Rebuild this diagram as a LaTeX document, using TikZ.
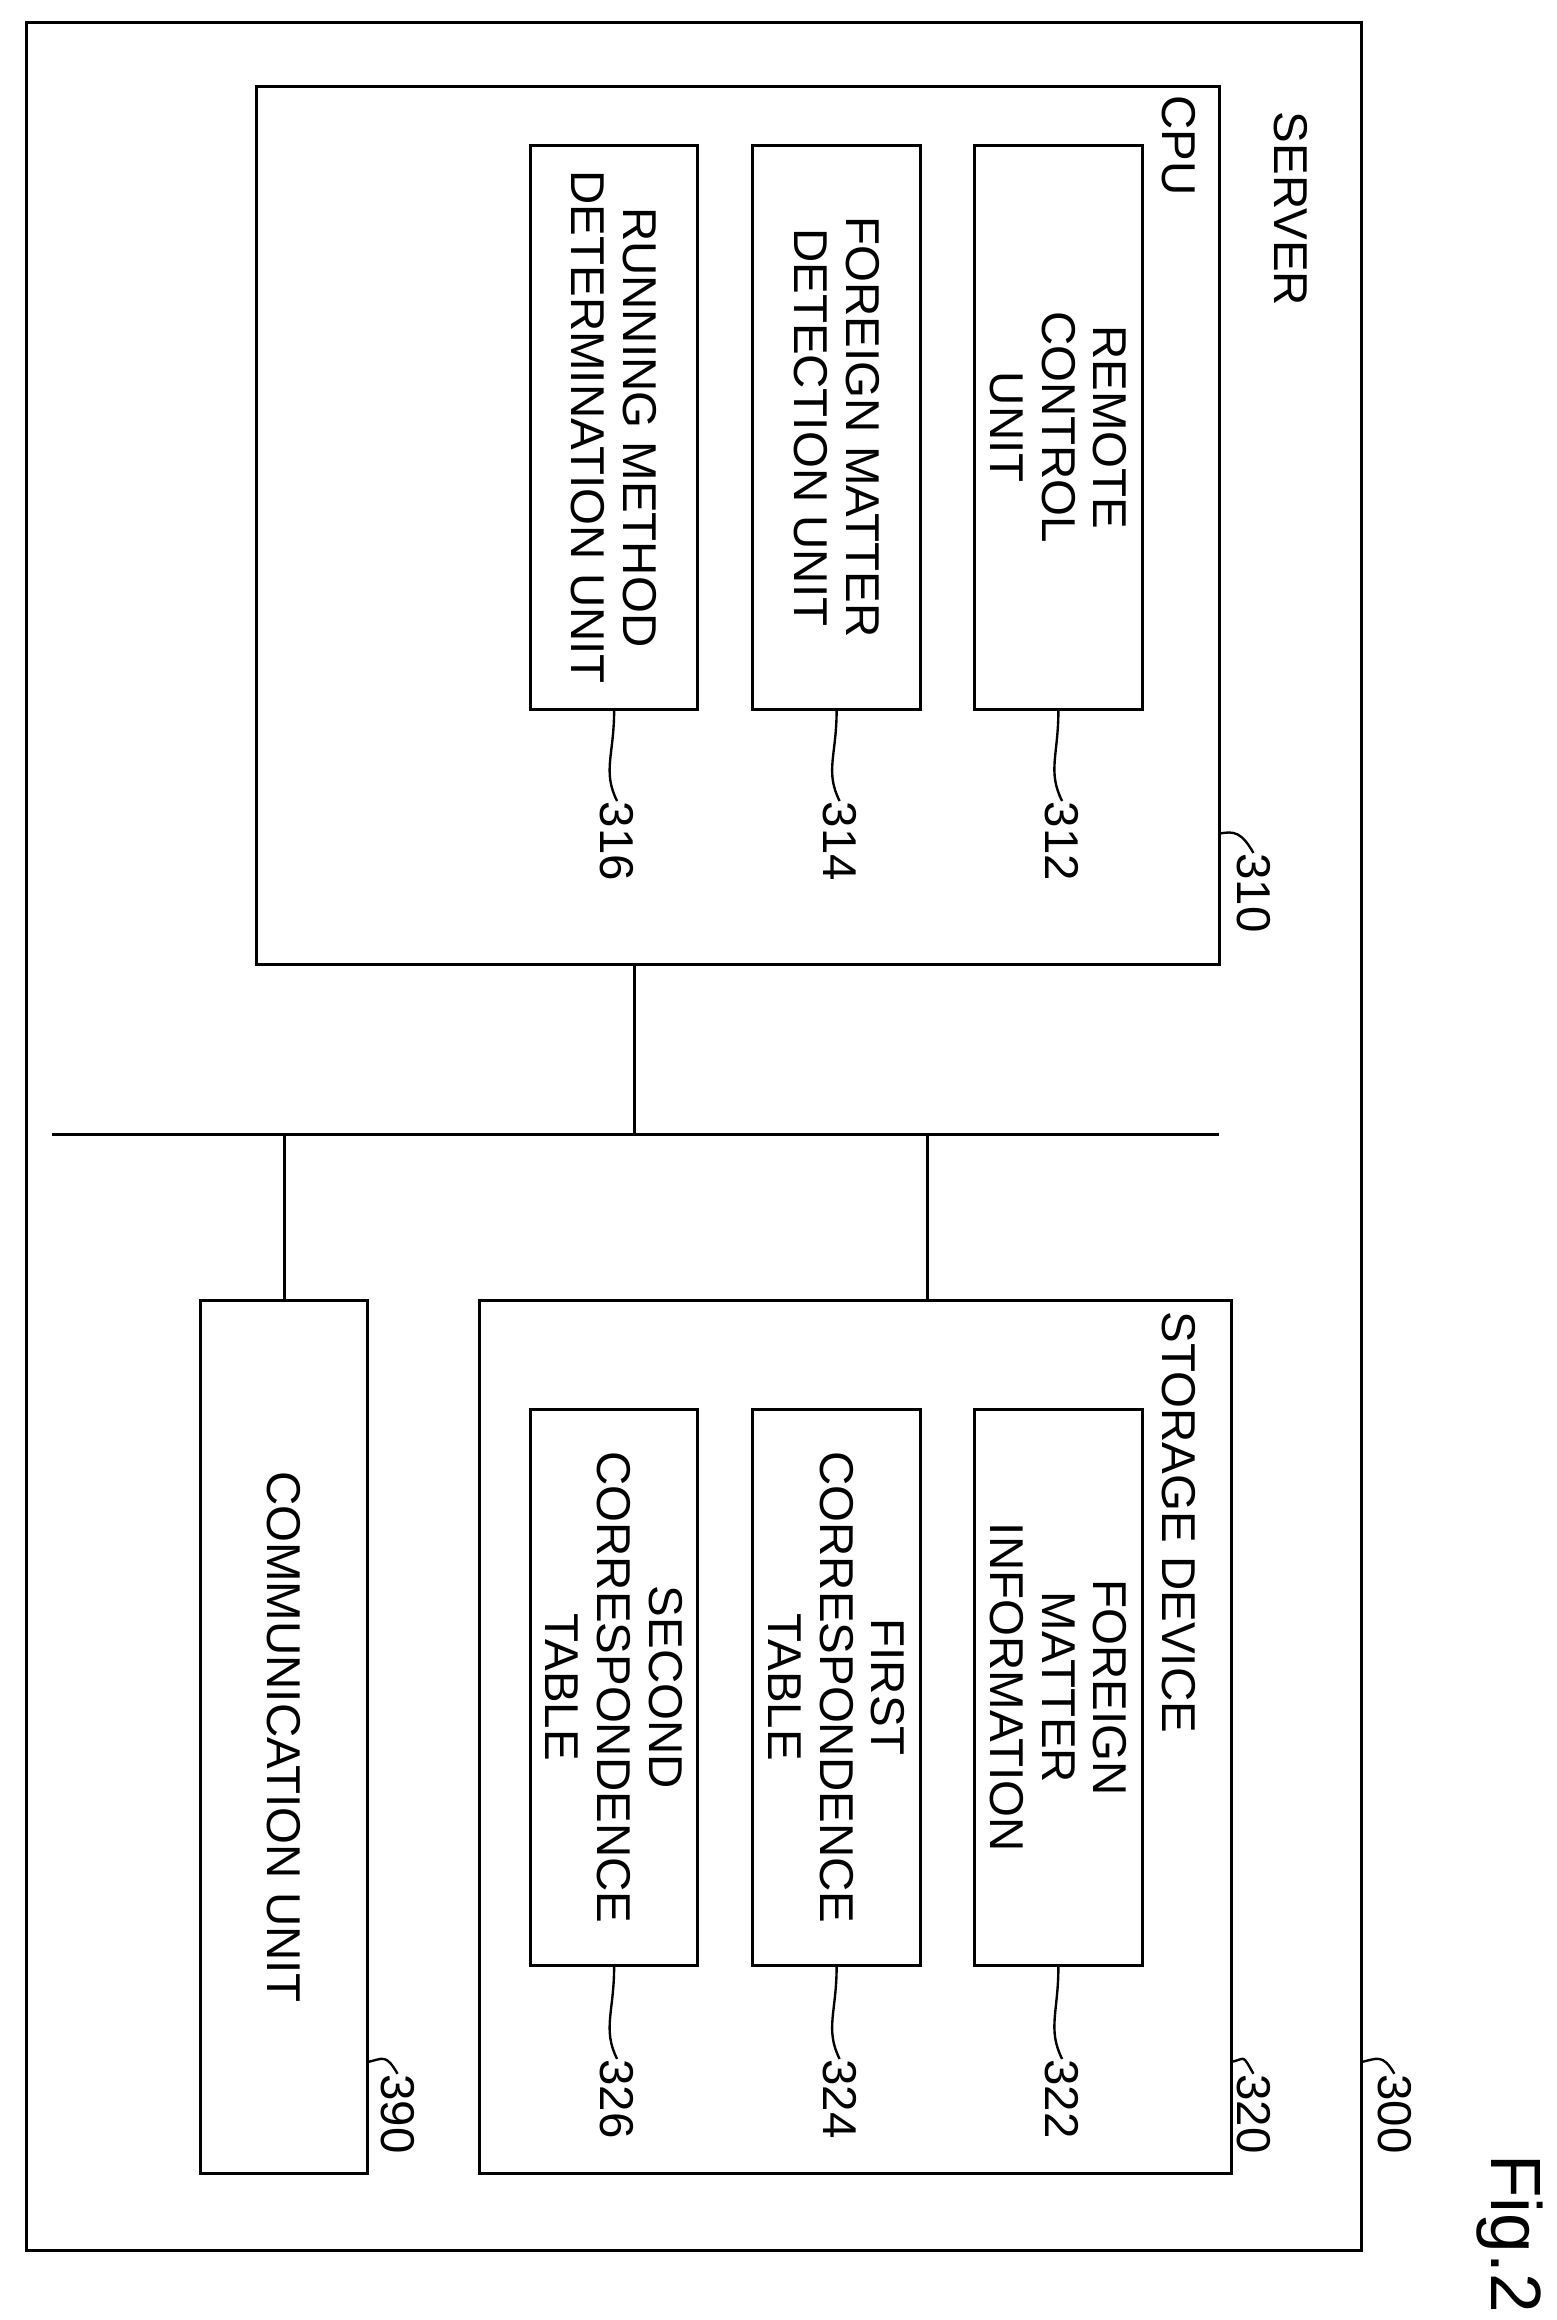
\documentclass[tikz,border=0pt]{standalone}
\usepackage{fontspec}
\setmainfont{Liberation Sans}
\usetikzlibrary{positioning, calc}
\newcommand{\unitfont}{\fontsize{16}{17.5}\selectfont}
\tikzset{
  box/.style={draw, line width=1pt, rotate=-90, inner sep=0pt, align=center, font=\unitfont},
  title/.style={rotate=-90, anchor=west, inner sep=0pt, font=\unitfont},
  ref/.style={rotate=-90, anchor=west, inner sep=0pt, font=\unitfont},
  lead/.style={line width=0.8pt},
  bus/.style={line width=1pt}
}
\begin{document}
\begin{tikzpicture}[x=0.5pt, y=-0.5pt]
\useasboundingbox (0,0) rectangle (1049,1564);

% server and cpu
\node[box, minimum width=751pt, minimum height=450pt] (server) at (468,766) {};
\node[title] (servert) at (870,75) {SERVER};
\node[box, minimum width=296pt, minimum height=324.5pt] (cpu) at (497.5,354) {};
\node[title] (cput) at (795,64) {CPU};

\node[box, minimum width=190pt, minimum height=56.5pt] (rcu) at (713.5,288) {REMOTE\\CONTROL\\UNIT};
\node[box, minimum width=190pt, minimum height=56.5pt] (fmdu) at (564,288) {FOREIGN MATTER\\DETECTION UNIT};
\node[box, minimum width=190pt, minimum height=56.5pt] (rmdu) at (414,288) {RUNNING METHOD\\DETERMINATION UNIT};

% storage and communication
\node[box, minimum width=294pt, minimum height=253.5pt] (storage) at (576.5,1171) {};
\node[title] (storaget) at (795,884) {STORAGE DEVICE};

\node[box, minimum width=187.5pt, minimum height=56.5pt] (fmi) at (713.5,1137.5) {FOREIGN\\MATTER\\INFORMATION};
\node[box, minimum width=187.5pt, minimum height=56.5pt] (fct) at (564,1137.5) {FIRST\\CORRESPONDENCE\\TABLE};
\node[box, minimum width=187.5pt, minimum height=56.5pt] (sct) at (414,1137.5) {SECOND\\CORRESPONDENCE\\TABLE};

\node[box, minimum width=294pt, minimum height=56.5pt] (comm) at (191.5,1171) {COMMUNICATION UNIT};

% bus
\coordinate (busl) at (35,765);
\coordinate (busr) at (822,765);
\draw[bus] (busl) -- (busr);
\draw[bus] (cpu.east -| 428,0) -- (busl -| 428,0);
\draw[bus] (storage.west -| 625,0) -- (busl -| 625,0);
\draw[bus] (comm.west -| 192,0) -- (busl -| 192,0);

% reference numbers
\node[ref] (l312) at (716,540) {312};
\node[ref] (l314) at (566,540) {314};
\node[ref] (l316) at (416,540) {316};
\node[ref] (l322) at (716,1388) {322};
\node[ref] (l324) at (566,1388) {324};
\node[ref] (l326) at (416,1388) {326};
\node[ref] (l310) at (845,575) {310};
\node[ref] (l320) at (845,1398) {320};
\node[ref] (l300) at (940,1398) {300};
\node[ref] (l390) at (268,1398) {390};

\foreach \b/\l in {rcu/l312, fmdu/l314, rmdu/l316, fmi/l322, fct/l324, sct/l326}
  \draw[lead] (\b.east) .. controls ($(\b.east)+(0,30)$) and ($(\l.west)+(-10,-20)$) .. (\l.west);

\coordinate (c310) at (822,562);
\coordinate (c320) at (830,1390);
\coordinate (c300) at (918,1390);
\coordinate (c390) at (248,1390);
\foreach \c/\l in {c310/l310, c320/l320, c300/l300, c390/l390}
  \draw[lead] (\c) .. controls ($(\c)+(10,-2)$) and ($(\l.west)+(-8,-14)$) .. (\l.west);

\node[rotate=-90, anchor=west, inner sep=0pt, font=\fontsize{24}{26}\selectfont] (fig) at (1018,1452) {Fig.2};
\end{tikzpicture}
\end{document}
